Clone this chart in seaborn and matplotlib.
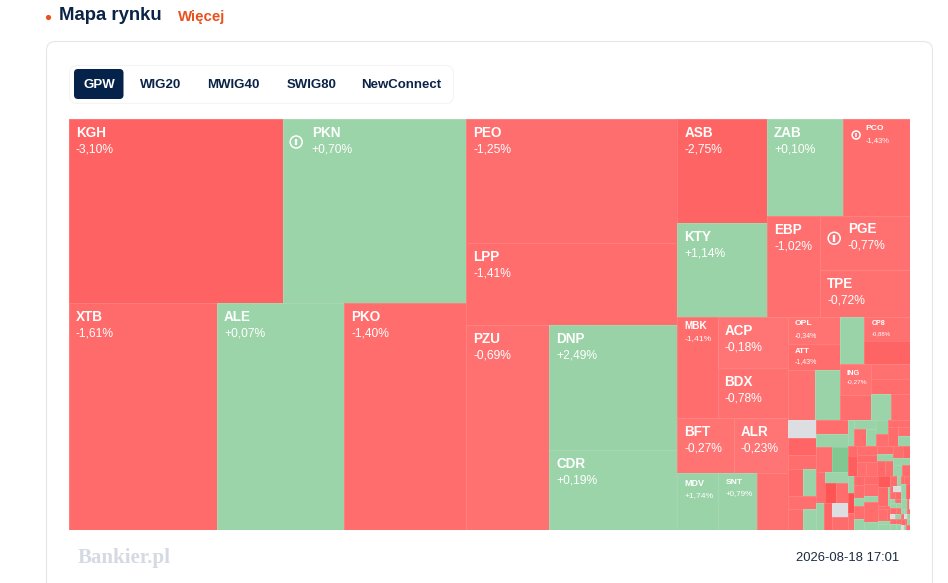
import numpy as np
import matplotlib
matplotlib.use("Agg")
import matplotlib.pyplot as plt
from matplotlib.patches import FancyBboxPatch, Circle
import seaborn as sns

# ---------- data, depth-first leaf order of the tree below ----------
tab_labels = ["GPW", "WIG20", "MWIG40", "SWIG80", "NewConnect"]

big_names = ["KGH", "PKN", "XTB", "ALE", "PKO", "PEO", "LPP", "PZU", "DNP", "CDR",
             "ASB", "KTY", "ZAB", "PCO", "EBP", "PGE", "TPE",
             "MBK", "ACP", "BDX", "BFT", "ALR", "MDV", "SNT", ""]
big_changes = [-3.10, 0.70, -1.61, 0.07, -1.40, -1.25, -1.41, -0.69, 2.49, 0.19,
               -2.75, 1.14, 0.10, -1.43, -1.02, -0.77, -0.72,
               -1.41, -0.18, -0.78, -0.27, -0.23, 1.74, 0.79, -0.9]
big_weights = [39376, 33672, 33596, 28829, 27694, 26164, 17302, 17015, 16000, 10240,
               9360, 8370, 7372, 6499, 5300, 4860, 4140,
               4080, 3640, 3500, 3080, 2970, 2280, 2223, 1767]

mid_names = ["OPL", "ATT", "", "", "", "CP8", "", "ING", "", "", "", "", ""]
mid_changes = [-0.34, -1.43, -0.9, 0.8, 0.9, -0.88, -2.9, -0.27, -1.2, -0.8, -1.4, 0.7, -1.1]
mid_weights = [1404, 1352, 1350, 1250, 1175, 1104, 1058, 961, 775, 585, 585, 520, 494]

col1_changes = [0.0, -2.6, -1.3, -2.0, 0.8, -1.0, -1.2, 0.6]
col1_weights = [504, 476, 420, 405, 351, 364, 315, 273]

col2_changes = [-1.3, 0.9, -1.1, 5.0, -1.2, 0.7, -4.6, -1.4, 0.8, -2.6, 0.0, -1.5, 0.9]
col2_weights = [462, 396, 408, 384, 270, 264, 228, 228, 224, 210, 209, 209, 171]

top_changes = [0.9, -1.4, 0.8, 3.0, -1.0, -1.3, -1.5, -1.1, 0.9, -1.6]
top_weights = [200, 198, 176, 176, 144, 156, 180, 112, 117, 91]

middle_changes = [-3.6, -1.2, -1.6, -1.1, -1.0, -1.3,
                  1.0, -2.0, -1.2, -1.4,
                  -2.2, 1.0, 1.2, -1.6, 0.8]
middle_weights = [180, 180, 144, 126, 150, 120,
                  128, 112, 120, 120,
                  84, 108, 96, 84, 108]

low_changes = [-5.0, -1.3, -1.7,
               -1.2, 1.1, -1.4, 0.9, -1.6,
               -1.1, 1.3, -1.4, 1.0, -4.0,
               -1.6, 1.0, -1.2, -1.0, -1.9, 2.0, 0.9, -1.3,
               1.1, -1.4, 0.0, -1.2, -1.6, 1.4, -1.1, 0.9, 1.2, -1.5, -1.3, 0.0, 1.0, -1.2, -1.4, 0.9, 1.1, -1.6,
               -1.8, 1.1, -3.0, 0.9,
               -1.3, 0.0, 1.2, 0.9, -1.4, -1.2, 0.0, 1.3, -2.0,
               -1.1, 1.0, 0.0, 1.2, -1.5, 0.9, -1.2, 0.0, 1.1,
               0.0, -1.4, 1.2, -1.3, 1.1, 0.0, 0.9, -1.6, 0.0]
low_weights = [132, 108, 96,
               120, 80, 130, 110, 120,
               168, 84, 294, 112, 126,
               180, 30, 30, 100, 35, 35, 70, 80,
               36, 24, 48, 32, 36, 24, 30, 30, 24, 36, 30, 30, 30, 30, 24, 36, 30, 30,
               48, 72, 60, 60,
               20, 12, 16, 16, 18, 14, 12, 16, 20,
               16, 14, 18, 12, 20, 16, 14, 18, 16,
               18, 12, 18, 16, 16, 16, 14, 20, 14]

# ---------- layout tree: "(" opens a group, "." is a cell; groups alternate column / row splits ----------
TREE = (
    "("
    "((..)(...))"
    "(..(.(..)))"
    "("
      "((..)((..)(.(..))))"
      "("
        "((.(..))(..)(...))"
        "("
          "((..(..))((.(..))((..)(..(..))))"
          ")"
          "("
            "(...(..).(..))"
            "(..(..)(.(.(..)))(..(..)))"
            "("
              "(.(.(..))(..)(.(.(..))))"
              "((..)(..(..))(..(..))((..).(..)))"
              "("
                "(...)(.....)(.....)(.(..).(..)..)"
                "((..)(..)(..)(..)(..)(..)(..)(..)(..))"
                "((..)(..)(...)(...)(...)(...)(...))"
              ")"
            ")"
          ")"
        ")"
      ")"
    ")"
    ")"
)

names = big_names + mid_names
names = names + [""] * (len(col1_weights) + len(col2_weights) + len(top_weights)
                        + len(middle_weights) + len(low_weights))
changes = big_changes + mid_changes + col1_changes + col2_changes + top_changes + middle_changes + low_changes
weights = big_weights + mid_weights + col1_weights + col2_weights + top_weights + middle_weights + low_weights

# per-ticker label style: name px, pct px, name dy, pct dy, name dx, pct dx
DEFAULT_STYLE = (13.5, 12, 14, 30.5, 6.8, 7)
LABEL_STYLE = {
    "PKN": (13.5, 12, 14, 30.5, 28.5, 28.5), "PGE": (13.5, 12, 13, 29.5, 27.5, 27.5),
    "PCO": (8.5, 7.5, 9, 21.5, 22.5, 22.5),
    "MBK": (10, 8.5, 9.5, 22, 7, 7), "MDV": (9, 8.5, 10, 22, 7, 7), "SNT": (8.5, 8, 9, 20, 8, 8),
    "OPL": (8.5, 7, 7, 19, 6.5, 6.5), "ATT": (8, 7, 8, 18, 6.5, 6.5),
    "CP8": (7, 6, 7, 17, 7, 7), "ING": (7.5, 6.5, 9, 18, 7, 7),
}
ICONS = {"PKN": (13, 23, 6), "PCO": (13, 16, 4), "PGE": (14, 22, 6)}

# ---------- theme ----------
sns.set_theme(style="white")
plt.rcParams["font.family"] = ["Liberation Sans", "DejaVu Sans"]

W, H = 948, 583
NAVY = "#0B2347"
ORANGE = "#E9511D"
MAP_X0, MAP_Y0, MAP_W, MAP_H = 69, 119, 841, 411

reds = sns.blend_palette(["#FF7575", "#FF6363", "#FF4848"], 61)
greens = sns.blend_palette(["#9CD4A9", "#97D2A5", "#75C289"], 61)


def colour(c):
    if c == 0:
        return (0.863, 0.871, 0.882)
    pal = reds if c < 0 else greens
    return tuple(pal[min(60, int(round(abs(c) * 10)))][:3])


def edge(c):
    """Cell outline: the cell's own colour, a little lighter."""
    return tuple(0.88 * v + 0.12 for v in colour(c))


def parse(s, i=0):
    """Turn the tree string into nested lists."""
    node = []
    i += 1
    while s[i] != ")":
        if s[i] == ".":
            node.append(None)
            i += 1
        else:
            child, i = parse(s, i)
            node.append(child)
    return node, i + 1


tree, _ = parse(TREE)
leaf_iter = iter(range(len(weights)))


def annotate_weights(node):
    if node is None:
        idx = next(leaf_iter)
        return {"leaf": idx, "w": weights[idx]}
    kids = [annotate_weights(k) for k in node]
    return {"kids": kids, "w": sum(k["w"] for k in kids)}


root = annotate_weights(tree)
cells = {}


def layout(n, x, y, w, h, horizontal):
    if "leaf" in n:
        cells[n["leaf"]] = (x, y, w, h)
        return
    pos = 0.0
    for k in n["kids"]:
        frac = k["w"] / n["w"]
        if horizontal:
            layout(k, x + pos * w, y, frac * w, h, False)
        else:
            layout(k, x, y + pos * h, w, frac * h, True)
        pos += frac


layout(root, 0.0, 0.0, 1.0, 1.0, True)
idx = sorted(cells)
xs = np.array([cells[i][0] for i in idx])
ys = np.array([cells[i][1] for i in idx])
ws = np.array([cells[i][2] for i in idx])
hs = np.array([cells[i][3] for i in idx])

# ---------- figure ----------
fig = plt.figure(figsize=(W / 100, H / 100), dpi=100, facecolor="white")

ax = fig.add_axes([MAP_X0 / W, 1 - (MAP_Y0 + MAP_H) / H, MAP_W / W, MAP_H / H])
ax.bar(xs, hs, width=ws, bottom=ys, align="edge",
       color=[colour(changes[i]) for i in idx],
       edgecolor=[edge(changes[i]) for i in idx], linewidth=0.7)
ax.set_xlim(0, 1)
ax.set_ylim(1, 0)
ax.axis("off")

px = 100 / 72  # px per pt at this dpi


def pt(p):
    return p / px


for i in idx:
    if not names[i]:
        continue
    nm_px, pc_px, nm_dy, pc_dy, nm_dx, pc_dx = LABEL_STYLE.get(names[i], DEFAULT_STYLE)
    pct = f"{changes[i]:+.2f}%".replace(".", ",")
    ax.annotate(names[i], (xs[i], ys[i]), xytext=(nm_dx, -nm_dy), textcoords="offset pixels",
                color="white", fontsize=pt(nm_px), fontweight="bold", ha="left", va="center")
    ax.annotate(pct, (xs[i], ys[i]), xytext=(pc_dx, -pc_dy), textcoords="offset pixels",
                color="white", fontsize=pt(pc_px), ha="left", va="center")

# page furniture in pixel coordinates, on top of the map
ui = fig.add_axes([0, 0, 1, 1], zorder=5)
ui.set_xlim(0, W)
ui.set_ylim(H, 0)
ui.axis("off")
ui.patch.set_alpha(0)

for t, (dx, dy, r) in ICONS.items():
    i = names.index(t)
    cx = MAP_X0 + xs[i] * MAP_W + dx
    cy = MAP_Y0 + ys[i] * MAP_H + dy
    ui.add_patch(Circle((cx, cy), r, fill=False, edgecolor="white", linewidth=1.1))
    ui.plot([cx, cx], [cy - r * 0.55, cy + r * 0.55], color="white", linewidth=r * 0.28,
            solid_capstyle="butt")

ui.add_patch(Circle((48.5, 17.5), 2.6, facecolor=ORANGE, edgecolor="none"))
ui.text(59, 15.5, "Mapa rynku", color=NAVY, fontsize=pt(18.5), fontweight="bold", va="center", ha="left")
ui.text(178, 16.5, "Więcej", color=ORANGE, fontsize=pt(15), fontweight="bold", va="center", ha="left")

ui.add_patch(FancyBboxPatch((46.5, 41.5), 886, 600, boxstyle="round,pad=0,rounding_size=9",
                            facecolor="none", edgecolor="#E6E6E6", linewidth=0.8, clip_on=True))
ui.add_patch(FancyBboxPatch((69.5, 65.5), 384, 38, boxstyle="round,pad=0,rounding_size=8",
                            facecolor="none", edgecolor="#F4F4F4", linewidth=0.8))
ui.add_patch(FancyBboxPatch((74, 69), 49.5, 30, boxstyle="round,pad=0,rounding_size=4",
                            facecolor="#04224A", edgecolor="none"))

tab_x = [99, 160.5, 233, 312, 401]
for label, x, col in zip(tab_labels, tab_x, ["white"] + [NAVY] * 4):
    ui.text(x, 84.5, label, color=col, fontsize=pt(13.3), fontweight="bold", ha="center", va="center")

ui.text(78, 558, "Bankier.pl", color="#D5DAE2", fontsize=pt(21), fontweight="bold",
        family="Liberation Serif", ha="left", va="center")
ui.text(899, 558, "2026-08-18 17:01", color="#1B2A41", fontsize=pt(13), ha="right", va="center")

fig.savefig("out.png", dpi=100, facecolor="white")
